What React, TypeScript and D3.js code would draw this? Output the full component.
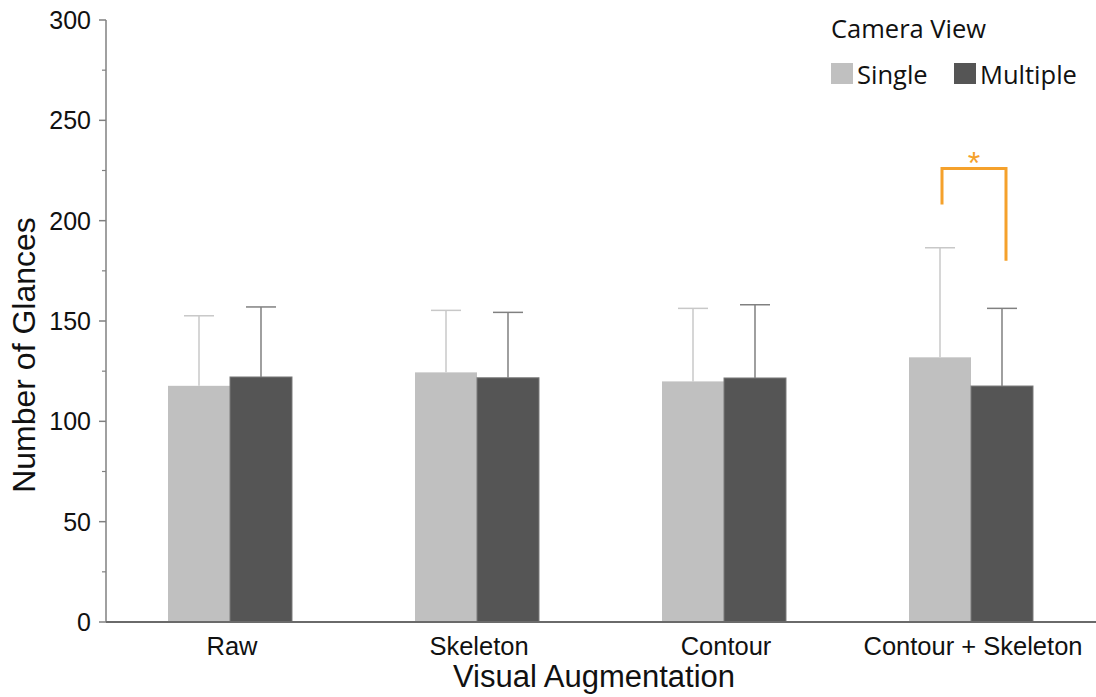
import React from "react";
import * as d3 from "d3";

// Categories along the x axis
const categories = ["Raw", "Skeleton", "Contour", "Contour + Skeleton"];
// Camera view conditions (legend series)
const seriesNames = ["Single", "Multiple"];
// Mean number of glances per condition
const singleMeans = [117.7, 124.4, 119.9, 131.9];
const multipleMeans = [122.1, 121.7, 121.6, 117.6];
// Standard deviations (upper error bars)
const singleSD = [34.9, 30.9, 36.4, 54.6];
const multipleSD = [34.9, 32.6, 36.5, 38.7];
// Y axis ticks
const yMajorTicks = [0, 50, 100, 150, 200, 250, 300];
const yMinorTicks = [25, 75, 125, 175, 225, 275];
// Significance bracket on "Contour + Skeleton" (data units): left end, top, right end
const sigCategory = "Contour + Skeleton";
const sigLevels = { left: 208, top: 226, right: 180 };

const W = 1096;
const H = 697;

const colors: Record<string, string> = { Single: "#c0c0c0", Multiple: "#555555" };
const whiskerColors: Record<string, string> = { Single: "#c8c8c8", Multiple: "#808080" };
const orange = "#f5a12b";

export default function App() {
  const x0 = d3
    .scaleBand<string>()
    .domain(categories)
    .range([106.5, 1094.5])
    .paddingInner(0.498)
    .paddingOuter(0.249);
  const x1 = d3
    .scaleBand<string>()
    .domain(seriesNames)
    .range([0, x0.bandwidth()]);
  const y = d3.scaleLinear().domain([0, 300]).range([622, 20]);

  const rows = categories.map((c, i) => ({
    cat: c,
    values: [
      { s: "Single", mean: singleMeans[i], sd: singleSD[i] },
      { s: "Multiple", mean: multipleMeans[i], sd: multipleSD[i] },
    ],
  }));

  const axisX = 106;
  const font = "'Liberation Sans', Arial, sans-serif";
  const legendFont = "'Open Sans', 'Noto Sans', sans-serif";

  const sigX0 = (x0(sigCategory) ?? 0) + (x1("Single") ?? 0) + x1.bandwidth() / 2 + 2;
  const sigX1 = (x0(sigCategory) ?? 0) + (x1("Multiple") ?? 0) + x1.bandwidth() / 2 + 4;

  return (
    <svg
      width={W}
      height={H}
      style={{ position: "absolute", left: 0, top: 0, background: "#fff" }}
      fontFamily={font}
    >
      {/* bars */}
      {rows.map((r) => (
        <g key={r.cat} transform={`translate(${x0(r.cat)},0)`}>
          {r.values.map((v) => {
            const bx = x1(v.s) ?? 0;
            const cx = bx + x1.bandwidth() / 2;
            return (
              <g key={v.s}>
                <rect
                  x={bx}
                  y={y(v.mean)}
                  width={x1.bandwidth()}
                  height={y(0) - y(v.mean)}
                  fill={colors[v.s]}
                  stroke={v.s === "Multiple" ? "#7a7a7a" : "none"}
                  strokeWidth={1}
                />
                <line
                  x1={cx}
                  x2={cx}
                  y1={y(v.mean)}
                  y2={y(v.mean + v.sd)}
                  stroke={whiskerColors[v.s]}
                  strokeWidth={1.5}
                />
                <line
                  x1={cx - 15}
                  x2={cx + 15}
                  y1={y(v.mean + v.sd)}
                  y2={y(v.mean + v.sd)}
                  stroke={whiskerColors[v.s]}
                  strokeWidth={1.5}
                />
              </g>
            );
          })}
        </g>
      ))}

      {/* y axis */}
      <line x1={axisX} x2={axisX} y1={y(300)} y2={y(0)} stroke="#808080" strokeWidth={1.5} />
      {yMajorTicks.map((t) => (
        <g key={t}>
          <line x1={axisX - 7} x2={axisX} y1={y(t)} y2={y(t)} stroke="#808080" strokeWidth={1.5} />
          <text x={91} y={y(t)} dy="0.36em" textAnchor="end" fontSize={25} fill="#111">
            {t}
          </text>
        </g>
      ))}
      {yMinorTicks.map((t) => (
        <line key={t} x1={axisX - 4} x2={axisX} y1={y(t)} y2={y(t)} stroke="#808080" strokeWidth={1.2} />
      ))}

      {/* x axis */}
      <line x1={axisX} x2={W} y1={y(0)} y2={y(0)} stroke="#6a6a6a" strokeWidth={2} />
      {categories.map((c) => (
        <text
          key={c}
          x={(x0(c) ?? 0) + x0.bandwidth() / 2 + 2}
          y={655}
          textAnchor="middle"
          fontSize={25.5}
          fill="#111"
        >
          {c}
        </text>
      ))}

      {/* axis titles */}
      <text x={594} y={687} textAnchor="middle" fontSize={31} fill="#111">
        Visual Augmentation
      </text>
      <text
        transform="translate(35,355) rotate(-90)"
        textAnchor="middle"
        fontSize={32}
        fill="#111"
      >
        Number of Glances
      </text>

      {/* significance bracket */}
      <path
        d={`M${sigX0},${y(sigLevels.left)} V${y(sigLevels.top)} H${sigX1} V${y(sigLevels.right)}`}
        fill="none"
        stroke={orange}
        strokeWidth={3}
      />
      <text x={(sigX0 + sigX1) / 2} y={y(sigLevels.top) + 6} textAnchor="middle" fontSize={32} fill={orange}>
        *
      </text>

      {/* legend */}
      <text x={831} y={38} fontSize={25.5} fontFamily={legendFont} fill="#111">
        Camera View
      </text>
      {seriesNames.map((s, i) => {
        const lx = i === 0 ? 831 : 954;
        return (
          <g key={s}>
            <rect x={lx} y={63} width={22} height={21} fill={colors[s]} />
            <text x={lx + 26} y={84} fontSize={25.5} fontFamily={legendFont} fill="#111">
              {s}
            </text>
          </g>
        );
      })}
    </svg>
  );
}
